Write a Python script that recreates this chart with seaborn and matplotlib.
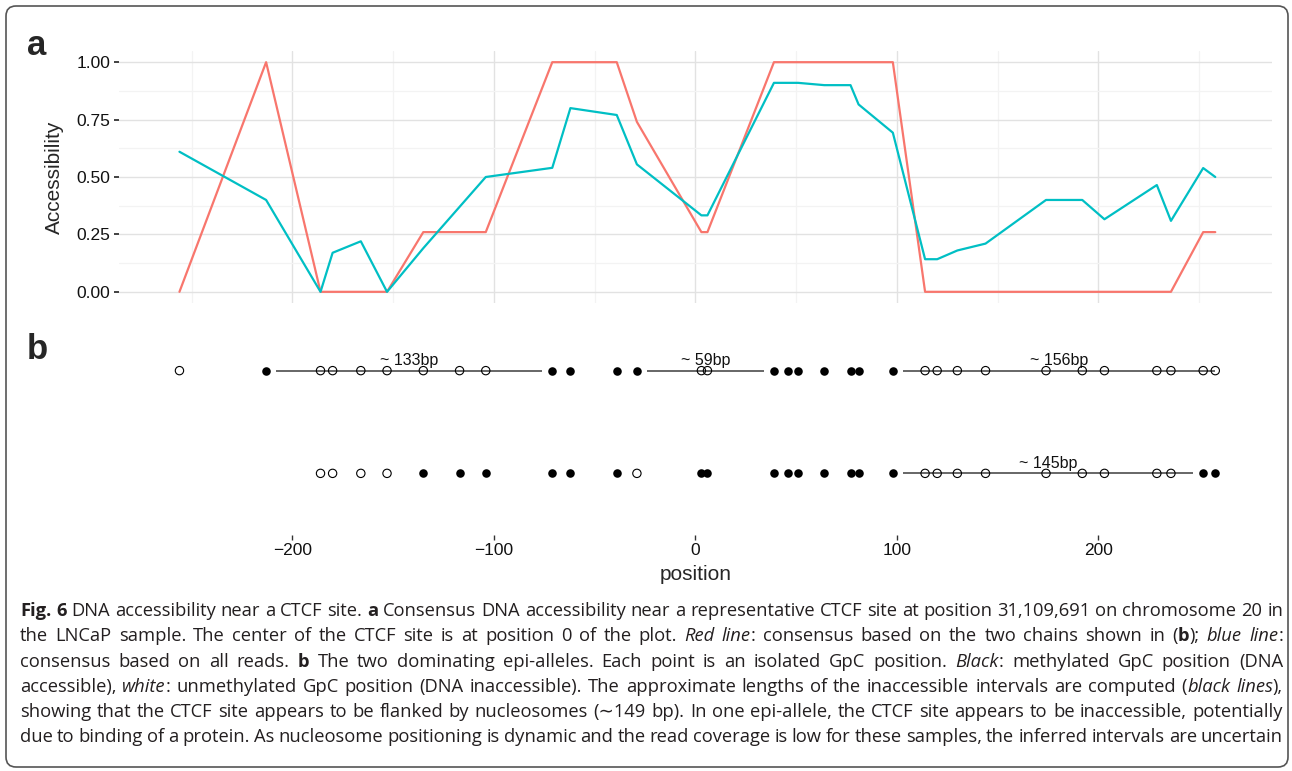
import matplotlib
matplotlib.use("Agg")
import matplotlib.pyplot as plt
import seaborn as sns
import pandas as pd
from matplotlib.patches import FancyBboxPatch
from matplotlib.ticker import MultipleLocator


# GpC positions around the CTCF site (bp)
positions = [-256, -213, -186, -180, -166, -153, -135, -117, -104, -71, -62, -39, -29,
             3, 6, 39, 46, 51, 64, 77, 81, 98, 114, 120, 130, 144, 174, 192, 203, 229,
             236, 252, 258]

# consensus accessibility: red = two chains, blue = all reads
red_consensus = [0, 1, 0, 0, 0, 0, 0.26, 0.26, 0.26, 1, 1, 1, 0.74,
                 0.26, 0.26, 1, 1, 1, 1, 1, 1, 1, 0, 0, 0, 0, 0, 0, 0, 0,
                 0, 0.26, 0.26]
blue_consensus = [0.61, 0.40, 0, 0.17, 0.22, 0, 0.19, 0.37, 0.50, 0.54, 0.80, 0.77, 0.555,
                  0.333, 0.333, 0.91, 0.91, 0.91, 0.90, 0.90, 0.816, 0.693, 0.142, 0.142, 0.18,
                  0.21, 0.40, 0.40, 0.316, 0.465, 0.309, 0.539, 0.50]

# epi-alleles: 1 = methylated (filled), 0 = unmethylated (open), None = no data
allele1 = [0, 1, 0, 0, 0, 0, 0, 0, 0, 1, 1, 1, 1,
           0, 0, 1, 1, 1, 1, 1, 1, 1, 0, 0, 0, 0, 0, 0, 0, 0,
           0, 0, 0]
allele2 = [None, None, 0, 0, 0, 0, 1, 1, 1, 1, 1, 1, 0,
           1, 1, 1, 1, 1, 1, 1, 1, 1, 0, 0, 0, 0, 0, 0, 0, 0,
           0, 1, 1]

# inaccessible intervals
interval_row = [1, 1, 1, 2]
interval_start = [-208, -24, 103, 103]
interval_end = [-76, 34, 258, 247]
interval_label = ["~ 133bp", "~ 59bp", "~ 156bp", "~ 145bp"]

xticks = [-200, -100, 0, 100, 200]
yticks = [0, 0.25, 0.5, 0.75, 1.0]


sns.set_style("white")
plt.rcParams["font.family"] = ["Liberation Sans", "DejaVu Sans"]

W, H = 1292, 771
fig = plt.figure(figsize=(W / 100, H / 100), dpi=100)


def px_box(x0, y0, x1, y1):
    # pixel box (top-left origin) -> figure fraction rect
    return [x0 / W, 1 - y1 / H, (x1 - x0) / W, (y1 - y0) / H]


# ---- panel a ----
ax_a = fig.add_axes(px_box(119, 50.7, 1271.7, 303.3))
cons = pd.DataFrame({
    "position": positions * 2,
    "Accessibility": red_consensus + blue_consensus,
    "series": ["chains"] * len(positions) + ["all"] * len(positions),
})
sns.lineplot(data=cons, x="position", y="Accessibility", hue="series",
             palette={"chains": "#F8766D", "all": "#00BFC4"}, linewidth=1.6,
             legend=False, ax=ax_a, zorder=3)
ax_a.set_xlim(-286, 286)
ax_a.set_ylim(-0.05, 1.05)
ax_a.set_yticks(yticks)
ax_a.set_yticklabels(["%.2f" % v for v in yticks])
ax_a.xaxis.set_major_locator(MultipleLocator(100))
ax_a.xaxis.set_minor_locator(MultipleLocator(50))
ax_a.yaxis.set_minor_locator(MultipleLocator(0.125))
ax_a.grid(True, which="major", color="#e2e2e2", linewidth=1.0)
ax_a.grid(True, which="minor", color="#f3f3f3", linewidth=0.9)
ax_a.set_axisbelow(True)
ax_a.tick_params(axis="x", which="both", length=0, labelbottom=False)
ax_a.tick_params(axis="y", which="major", length=3.6, width=1.3, color="#333333",
                 pad=2.5, labelsize=12.5, labelcolor="#111111", left=True)
ax_a.tick_params(axis="y", which="minor", length=0)
ax_a.set_xlabel("")
ax_a.set_ylabel("Accessibility", fontsize=15, labelpad=9)
for s in ax_a.spines.values():
    s.set_visible(False)

# ---- panel b ----
ax_b = fig.add_axes(px_box(119, 309, 1271.7, 535))
pts = pd.DataFrame({
    "position": positions * 2,
    "row": [1] * len(positions) + [2] * len(positions),
    "state": allele1 + allele2,
}).dropna()

ax_b.hlines(interval_row, interval_start, interval_end, color="#666666", linewidth=1.4, zorder=1)
for r, a, b, lab in zip(interval_row, interval_start, interval_end, interval_label):
    ax_b.annotate(lab, ((a + b) / 2, r), xytext=(0, 4), textcoords="offset points",
                  ha="center", va="baseline", fontsize=11.5, color="#111111")

sns.scatterplot(data=pts[pts["state"] == 1], x="position", y="row", color="black",
                s=38, linewidth=0, ax=ax_b, zorder=3)
sns.scatterplot(data=pts[pts["state"] == 0], x="position", y="row", color="black",
                s=36, linewidth=0.8, ax=ax_b, zorder=3)
ax_b.collections[-1].set_facecolor("none")
ax_b.collections[-1].set_edgecolor("black")

ax_b.set_xlim(-286, 286)
ax_b.set_ylim(2.6, 0.4)
ax_b.set_xticks(xticks)
ax_b.set_xticklabels([str(v).replace("-", "\u2212") for v in xticks])
ax_b.set_yticks([])
ax_b.tick_params(axis="x", length=3.6, width=1.0, color="#333333", pad=2.5,
                 labelsize=12.5, labelcolor="#111111", bottom=True)
ax_b.set_xlabel("position", fontsize=15, labelpad=5)
ax_b.set_ylabel("")
ax_b.grid(False)
for s in ax_b.spines.values():
    s.set_visible(False)

# panel letters
fig.text(27 / W, 1 - 55 / H, "a", fontsize=25, fontweight="bold", va="baseline")
fig.text(27 / W, 1 - 359 / H, "b", fontsize=25, fontweight="bold", va="baseline")

# ---- caption ----
caption = [
    [("Fig. 6", "b"), (" DNA accessibility near a CTCF site. ", "n"), ("a", "b"),
     (" Consensus DNA accessibility near a representative CTCF site at position 31,109,691 on chromosome 20 in", "n")],
    [("the LNCaP sample. The center of the CTCF site is at position 0 of the plot. ", "n"), ("Red line", "i"),
     (": consensus based on the two chains shown in (", "n"), ("b", "b"), ("); ", "n"), ("blue line", "i"), (":", "n")],
    [("consensus based on all reads. ", "n"), ("b", "b"),
     (" The two dominating epi-alleles. Each point is an isolated GpC position. ", "n"), ("Black", "i"),
     (": methylated GpC position (DNA", "n")],
    [("accessible), ", "n"), ("white", "i"),
     (": unmethylated GpC position (DNA inaccessible). The approximate lengths of the inaccessible intervals are computed (", "n"),
     ("black lines", "i"), ("),", "n")],
    [("showing that the CTCF site appears to be flanked by nucleosomes (\u223c149 bp). In one epi-allele, the CTCF site appears to be inaccessible, potentially", "n")],
    [("due to binding of a protein. As nucleosome positioning is dynamic and the read coverage is low for these samples, the inferred intervals are uncertain", "n")],
]
cap_font = ["Open Sans", "DejaVu Sans"]
styles = {"n": dict(fontweight="normal", fontstyle="normal"),
          "b": dict(fontweight="bold", fontstyle="normal"),
          "i": dict(fontweight="normal", fontstyle="italic")}

renderer = fig.canvas.get_renderer()


def split_words(segments):
    words = [[]]
    for text, st in segments:
        parts = text.split(" ")
        for i, p in enumerate(parts):
            if i > 0:
                words.append([])
            if p:
                words[-1].append((p, st))
    return [w for w in words if w]


def text_width(s, size, st):
    t = fig.text(0, 0, s, fontsize=size, family=cap_font, **styles[st])
    wd = t.get_window_extent(renderer).width
    t.remove()
    return wd


left, right = 20, 1283
baseline0, line_gap = 616, 25.3

# pick a size so the widest line fits with ordinary word spacing
trial = 12
widest = 0
for segs in caption:
    words = split_words(segs)
    wsum = sum(text_width(p, trial, st) for w in words for p, st in w)
    widest = max(widest, wsum + (len(words) - 1) * text_width(" ", trial, "n") * 0.9)
cap_size = trial * (right - left) / widest

for li, segs in enumerate(caption):
    y = 1 - (baseline0 + li * line_gap) / H
    words = split_words(segs)
    pieces = []
    total = 0
    for w in words:
        wp = []
        for p, st in w:
            t = fig.text(0, y, p, fontsize=cap_size, family=cap_font, va="baseline",
                         color="#231f20", **styles[st])
            wd = t.get_window_extent(renderer).width
            wp.append((t, wd))
            total += wd
        pieces.append(wp)
    gap = (right - left - total) / max(len(pieces) - 1, 1)
    x = left
    for wp in pieces:
        for t, wd in wp:
            t.set_x(x / W)
            x += wd
        x += gap

# rounded frame around the figure
frame = FancyBboxPatch((6 / 100, (H - 767) / 100), (1288 - 6) / 100, (767 - 6) / 100,
                       boxstyle="round,pad=0,rounding_size=0.1", transform=fig.dpi_scale_trans,
                       facecolor="none", edgecolor="#555555", linewidth=1.2)
fig.patches.append(frame)

fig.savefig("out.png", dpi=100)
